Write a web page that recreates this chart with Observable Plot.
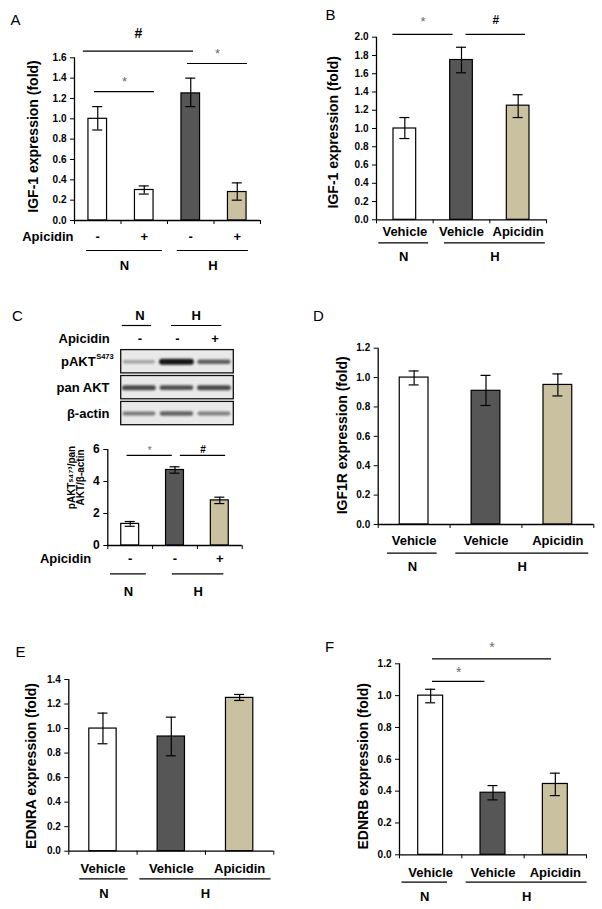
<!DOCTYPE html>
<html><head><meta charset="utf-8">
<script src="https://cdn.jsdelivr.net/npm/d3@7"></script>
<script src="https://cdn.jsdelivr.net/npm/@observablehq/plot@0.6"></script>
<style>
html,body{margin:0;padding:0;background:#fff;}
#fig{position:relative;width:602px;height:909px;overflow:hidden;background:#fff;}
#fig svg{position:absolute;overflow:visible;}
</style></head><body><div id="fig"></div>
<script>
// ---------------- DATA ----------------
// Panel A : IGF-1 expression (fold)
const aHypoxia = ["N", "N", "H", "H"];
const aApicidin = ["-", "+", "-", "+"];
const aMean = [1.00, 0.30, 1.25, 0.28];
const aLow = [0.89, 0.26, 1.12, 0.20];
const aHigh = [1.12, 0.34, 1.40, 0.37];
const aTicks = [0, 0.2, 0.4, 0.6, 0.8, 1.0, 1.2, 1.4, 1.6];
const aSig = [{from: 0, to: 2, level: 1.665, label: "#"}, {from: 0, to: 1, level: 1.268, label: "*"}, {from: 2, to: 3, level: 1.544, label: "*"}];

// Panel B : IGF-1 expression (fold)
const bHypoxia = ["N", "H", "H"];
const bTreatment = ["Vehicle", "Vehicle", "Apicidin"];
const bMean = [1.00, 1.75, 1.25];
const bLow = [0.89, 1.61, 1.12];
const bHigh = [1.12, 1.89, 1.37];
const bTicks = [0, 0.2, 0.4, 0.6, 0.8, 1.0, 1.2, 1.4, 1.6, 1.8, 2.0];
const bSig = [{from: 0, to: 1, level: 2.03, label: "*"}, {from: 1, to: 2, level: 2.03, label: "#"}];

// Panel C : western blot + pAKT quantification
const blotRows = ["pAKT", "pan AKT", "β-actin"];
const blotRowSup = ["S473", "", ""];
const blotLaneHypoxia = ["N", "H", "H"];
const blotLaneApicidin = ["-", "-", "+"];
const blotIntensity = [[0.22, 1.0, 0.6], [0.72, 0.68, 0.72], [0.45, 0.58, 0.42]];
const cHypoxia = ["N", "H", "H"];
const cApicidin = ["-", "-", "+"];
const cMean = [1.35, 4.72, 2.82];
const cLow = [1.20, 4.52, 2.62];
const cHigh = [1.50, 4.92, 3.02];
const cTicks = [0, 2, 4, 6];
const cSig = [{from: 0, to: 1, level: 5.63, label: "*"}, {from: 1, to: 2, level: 5.63, label: "#"}];

// Panel D : IGF1R expression (fold)
const dHypoxia = ["N", "H", "H"];
const dTreatment = ["Vehicle", "Vehicle", "Apicidin"];
const dMean = [1.00, 0.91, 0.95];
const dLow = [0.95, 0.81, 0.875];
const dHigh = [1.045, 1.015, 1.025];
const dTicks = [0, 0.2, 0.4, 0.6, 0.8, 1.0, 1.2];

// Panel E : EDNRA expression (fold)
const eHypoxia = ["N", "H", "H"];
const eTreatment = ["Vehicle", "Vehicle", "Apicidin"];
const eMean = [1.00, 0.935, 1.25];
const eLow = [0.876, 0.778, 1.229];
const eHigh = [1.126, 1.093, 1.278];
const eTicks = [0, 0.2, 0.4, 0.6, 0.8, 1.0, 1.2, 1.4];

// Panel F : EDNRB expression (fold)
const fHypoxia = ["N", "H", "H"];
const fTreatment = ["Vehicle", "Vehicle", "Apicidin"];
const fMean = [1.00, 0.39, 0.445];
const fLow = [0.955, 0.345, 0.372];
const fHigh = [1.04, 0.435, 0.513];
const fTicks = [0, 0.2, 0.4, 0.6, 0.8, 1.0, 1.2];
const fSig = [{from: 0, to: 2, level: 1.231, label: "*"}, {from: 0, to: 1, level: 1.09, label: "*"}];

// ---------------- RENDERING ----------------
const FONT = "'Liberation Sans', Arial, Helvetica, sans-serif";
const COLOR = {type: "ordinal", domain: ["normoxia", "hypoxia", "hypoxia+apicidin"], range: ["#ffffff", "#565656", "#c9c19f"]};
const fig = document.getElementById("fig");

function makeBars(hyp, labels, mean, low, high, isApi) {
  return mean.map((m, i) => ({
    i, hyp: hyp[i], label: labels[i], mean: m, low: low[i], high: high[i],
    key: hyp[i] === "N" ? "normoxia" : (isApi(labels[i]) ? "hypoxia+apicidin" : "hypoxia")
  }));
}
function groupsOf(hyp) {
  const g = [];
  hyp.forEach((h, i) => {
    if (g.length && g[g.length - 1].label === h) g[g.length - 1].last = i;
    else g.push({label: h, first: i, last: i});
  });
  return g;
}
function place(svg, left, top) {
  svg.style.left = left + "px";
  svg.style.top = top + "px";
  fig.appendChild(svg);
}

function barPanel(L, bars, ticks, sig, prefix) {
  const n = bars.length;
  const band = (L.x1 - L.x0) / n;
  const capHalf = L.cap / 2 / band;
  const yMax = ticks[ticks.length - 1];
  const groups = groupsOf(bars.map(d => d.hyp)).map((g, k) => ({...g, a: g.first + L.groupInsets[k][0], b: g.last + 1 - L.groupInsets[k][1]}));
  const sigs = (sig || []).map((s, k) => ({...s, a: s.from + 0.5 + L.sigOffsets[k][0], b: s.to + 0.5 + L.sigOffsets[k][1], lift: L.sigLift[k]}));
  const marks = [
    Plot.rect(bars, {x1: d => d.i + 0.3, x2: d => d.i + 0.7, y1: () => 0, y2: d => d.mean, fill: d => d.key, stroke: "black", strokeWidth: 1.2}),
    Plot.ruleX(bars, {x: d => d.i + 0.5, y1: d => d.low, y2: d => d.high, stroke: "black", strokeWidth: 1.2}),
    Plot.ruleY(bars, {y: d => d.low, x1: d => d.i + 0.5 - capHalf, x2: d => d.i + 0.5 + capHalf, stroke: "black", strokeWidth: 1.2}),
    Plot.ruleY(bars, {y: d => d.high, x1: d => d.i + 0.5 - capHalf, x2: d => d.i + 0.5 + capHalf, stroke: "black", strokeWidth: 1.2}),
    Plot.ruleY([0], {stroke: "black", strokeWidth: 1.3}),
    Plot.ruleX([0], {stroke: "black", strokeWidth: 1.3}),
    Plot.text(bars, {x: d => d.i + 0.5, y: () => 0, dy: L.catDy, text: d => d.label, fontSize: L.catFont || 13, fontWeight: "bold", fill: "black"}),
    Plot.ruleY(groups, {y: () => 0, dy: L.groupLineDy, x1: d => d.a, x2: d => d.b, stroke: "black", strokeWidth: 1.2}),
    Plot.text(groups, {x: d => (d.a + d.b) / 2, y: () => 0, dy: L.groupDy, text: d => d.label, fontSize: 13, fontWeight: "bold", fill: "black"}),
    Plot.text([L.yLabel], {frameAnchor: "left", rotate: -90, dx: L.yLabelDx, dy: L.yLabelDy, textAnchor: "middle", lineAnchor: "middle", lineHeight: 0.9, text: d => d, fontSize: L.yLabelFont || 14, fontWeight: "bold", fill: "black"})
  ];
  if (prefix) marks.push(Plot.text([prefix], {x: () => 0, y: () => 0, dx: L.prefixDx, dy: L.catDy, textAnchor: "end", text: d => d, fontSize: 13, fontWeight: "bold", fill: "black"}));
  if (L.letter) marks.push(Plot.text([L.letter], {frameAnchor: "top-left", dx: L.letterX - L.x0, dy: L.letterY - L.yTopPx, textAnchor: "middle", lineAnchor: "middle", text: d => d, fontSize: 15, fontWeight: "normal", fill: "black"}));
  for (const s of sigs) {
    const isStar = s.label === "*";
    const fs = isStar ? L.starFont : L.hashFont;
    marks.push(Plot.ruleY([s], {y: d => d.level, x1: d => d.a, x2: d => d.b, stroke: "black", strokeWidth: 1.2}));
    marks.push(Plot.text([s], {x: d => (d.a + d.b) / 2, y: d => d.level, dy: -s.lift + (isStar ? 0.25 : 0.03) * fs, text: d => d.label, fontSize: fs, fontWeight: isStar ? "normal" : "bold", fill: isStar ? "#6a6a72" : "black"}));
  }
  const svg = Plot.plot({
    width: L.width, height: L.height,
    marginLeft: L.x0 - L.left, marginRight: L.left + L.width - L.x1,
    marginTop: L.yTopPx - L.top, marginBottom: L.top + L.height - L.yBase,
    x: {domain: [0, n], ticks: d3.range(n + 1), tickFormat: () => "", tickSize: 4, label: null},
    y: {domain: [0, yMax], ticks: ticks, tickFormat: L.fmt, tickSize: 4, tickPadding: 4, label: null},
    color: COLOR,
    style: {fontFamily: FONT, fontSize: (L.tickFont || 10) + "px", fontWeight: "bold", color: "black", background: "transparent", overflow: "visible"},
    marks
  });
  place(svg, L.left, L.top);
}

const f1 = d3.format(".1f");

// Panel A
barPanel({left: 0, top: 0, width: 300, height: 290, x0: 74, x1: 260, yBase: 220, yTopPx: 57.3, fmt: f1, cap: 10,
  catDy: 16, prefixDx: -1, groupLineDy: 30, groupDy: 45, groupInsets: [[0.26, 0.11], [0.21, 0.26]],
  yLabel: "IGF-1 expression (fold)", yLabelDx: -41, yLabelDy: -2.7, letter: "A", letterX: 15, letterY: 20,
  sigOffsets: [[-0.31, 0.06], [-0.07, 0.22], [-0.07, 0.22]], sigLift: [17.7, 13, 13], starFont: 13, hashFont: 14},
  makeBars(aHypoxia, aApicidin, aMean, aLow, aHigh, l => l === "+"), aTicks, aSig, "Apicidin");

// Panel B
barPanel({left: 300, top: 0, width: 302, height: 290, x0: 376, x1: 546, yBase: 219.3, yTopPx: 36.7, fmt: f1, cap: 10,
  catDy: 12.4, groupLineDy: 23, groupDy: 37.4, groupInsets: [[0.04, 0.08], [0.2, 0.02]],
  yLabel: "IGF-1 expression (fold)", yLabelDx: -42.7, yLabelDy: 3.7, letter: "B", letterX: 330, letterY: 15,
  sigOffsets: [[-0.21, -0.15], [0.08, 0.13]], sigLift: [16, 15], starFont: 13, hashFont: 12},
  makeBars(bHypoxia, bTreatment, bMean, bLow, bHigh, l => l === "Apicidin"), bTicks, bSig);

// Panel C (bar chart)
barPanel({left: 0, top: 430, width: 300, height: 170, x0: 107.3, x1: 241.7, yBase: 545, yTopPx: 449, fmt: d3.format("d"), cap: 10, tickFont: 12,
  catDy: 13.3, prefixDx: -16.6, groupLineDy: 28.3, groupDy: 46.7, groupInsets: [[0.06, 0.14], [0.44, 0.41]],
  yLabel: "pAKTˢ⁴⁷³/pan\nAKT/β-actin", yLabelDx: -31.5, yLabelDy: -20, yLabelFont: 10,
  sigOffsets: [[-0.07, -0.06], [0.12, 0.13]], sigLift: [6.7, 6], starFont: 10, hashFont: 10},
  makeBars(cHypoxia, cApicidin, cMean, cLow, cHigh, l => l === "+"), cTicks, cSig, "Apicidin");

// Panel C (western blot)
(function () {
  const L = {left: 0, top: 300, width: 300, height: 130, x0: 120.7, x1: 233.3, yTop: 348.3, yBottom: 426};
  const nLanes = blotLaneHypoxia.length;
  const bands = [];
  blotIntensity.forEach((row, r) => row.forEach((v, l) => bands.push({row: r, lane: l, v})));
  const rows = blotRows.map((name, i) => ({name, i, sup: blotRowSup[i]}));
  const lanes = blotLaneApicidin.map((a, i) => ({a, i}));
  const gInsets = [[0.03, 0.19], [0.34, 0.32]];
  const groups = groupsOf(blotLaneHypoxia).map((g, k) => ({...g, a: g.first + gInsets[k][0], b: g.last + 1 - gInsets[k][1]}));
  const txt = {fontSize: 13, fontWeight: "bold", fill: "black"};
  const svg = Plot.plot({
    width: L.width, height: L.height,
    marginLeft: L.x0 - L.left, marginRight: L.left + L.width - L.x1,
    marginTop: L.yTop - L.top, marginBottom: L.top + L.height - L.yBottom,
    x: {domain: [0, nLanes], axis: null},
    y: {domain: [0, blotRows.length], reverse: true, axis: null},
    style: {fontFamily: FONT, fontSize: "13px", fontWeight: "bold", color: "black", background: "transparent", overflow: "visible"},
    marks: [
      Plot.rect(rows, {x1: () => 0, x2: () => nLanes, y1: d => d.i, y2: d => d.i + 1, insetTop: 1.3, insetBottom: 1.3, fill: "#e9e9e9", stroke: "#111", strokeWidth: 1.3}),
      Plot.ruleY(bands, {y: d => d.row + 0.5, x1: d => d.lane + 0.1, x2: d => d.lane + 0.87, stroke: "#151515", strokeOpacity: d => 0.15 + 0.85 * d.v, strokeWidth: d => 2.5 + 3.5 * d.v, strokeLinecap: "round", imageFilter: "blur(0.9px)"}),
      Plot.text(rows.filter(d => !d.sup), {x: () => 0, y: d => d.i + 0.5, dx: -11.7, textAnchor: "end", text: d => d.name, ...txt}),
      Plot.text(rows.filter(d => d.sup), {x: () => 0, y: d => d.i + 0.5, dx: -25.5, textAnchor: "end", text: d => d.name, ...txt}),
      Plot.text(rows.filter(d => d.sup), {x: () => 0, y: d => d.i + 0.5, dx: -25, dy: -5, textAnchor: "start", text: d => d.sup, fontSize: 7.5, fontWeight: "bold", fill: "black"}),
      Plot.text(lanes, {x: d => d.i + 0.5, y: () => 0, dy: -10.3, text: d => d.a, ...txt}),
      Plot.text(["Apicidin"], {x: () => 0, y: () => 0, dx: -11.4, dy: -10.3, textAnchor: "end", text: d => d, ...txt}),
      Plot.ruleY(groups, {y: () => 0, dy: -23.3, x1: d => d.a, x2: d => d.b, stroke: "black", strokeWidth: 1.2}),
      Plot.text(groups, {x: d => (d.first + d.last + 1) / 2, y: () => 0, dy: -33.3, text: d => d.label, ...txt}),
      Plot.text(["C"], {frameAnchor: "top-left", dx: 17 - L.x0, dy: 315.5 - L.yTop, textAnchor: "middle", lineAnchor: "middle", text: d => d, fontSize: 15, fontWeight: "normal", fill: "black"})
    ]
  });
  place(svg, L.left, L.top);
})();

// Panel D
barPanel({left: 300, top: 300, width: 302, height: 290, x0: 377.7, x1: 593.3, yBase: 524, yTopPx: 347.7, fmt: f1, cap: 10,
  catDy: 16, groupLineDy: 28.7, groupDy: 42.7, groupInsets: [[0.13, 0.18], [0.08, 0.07]],
  yLabel: "IGF1R expression (fold)", yLabelDx: -35, yLabelDy: -1, letter: "D", letterX: 318, letterY: 315.5},
  makeBars(dHypoxia, dTreatment, dMean, dLow, dHigh, l => l === "Apicidin"), dTicks);

// Panel E
barPanel({left: 0, top: 600, width: 300, height: 309, x0: 68.3, x1: 273.3, yBase: 850.7, yTopPx: 679, fmt: f1, cap: 10,
  catDy: 17.6, groupLineDy: 27.6, groupDy: 42.6, groupInsets: [[0.16, 0.13], [0.04, 0.04]],
  yLabel: "EDNRA expression (fold)", yLabelDx: -36.6, yLabelDy: 0.6, letter: "E", letterX: 20, letterY: 652},
  makeBars(eHypoxia, eTreatment, eMean, eLow, eHigh, l => l === "Apicidin"), eTicks);

// Panel F
barPanel({left: 300, top: 600, width: 302, height: 309, x0: 399, x1: 586, yBase: 854.3, yTopPx: 663.3, fmt: f1, cap: 10,
  catDy: 18.4, groupLineDy: 27.4, groupDy: 41.7, groupInsets: [[0.04, 0.23], [0.07, -0.01]],
  yLabel: "EDNRB expression (fold)", yLabelDx: -35.7, yLabelDy: 7, letter: "F", letterX: 329, letterY: 647,
  sigOffsets: [[0.03, -0.06], [0.03, -0.13]], sigLift: [15, 12.4], starFont: 14, hashFont: 14},
  makeBars(fHypoxia, fTreatment, fMean, fLow, fHigh, l => l === "Apicidin"), fTicks, fSig);
</script></body></html>
